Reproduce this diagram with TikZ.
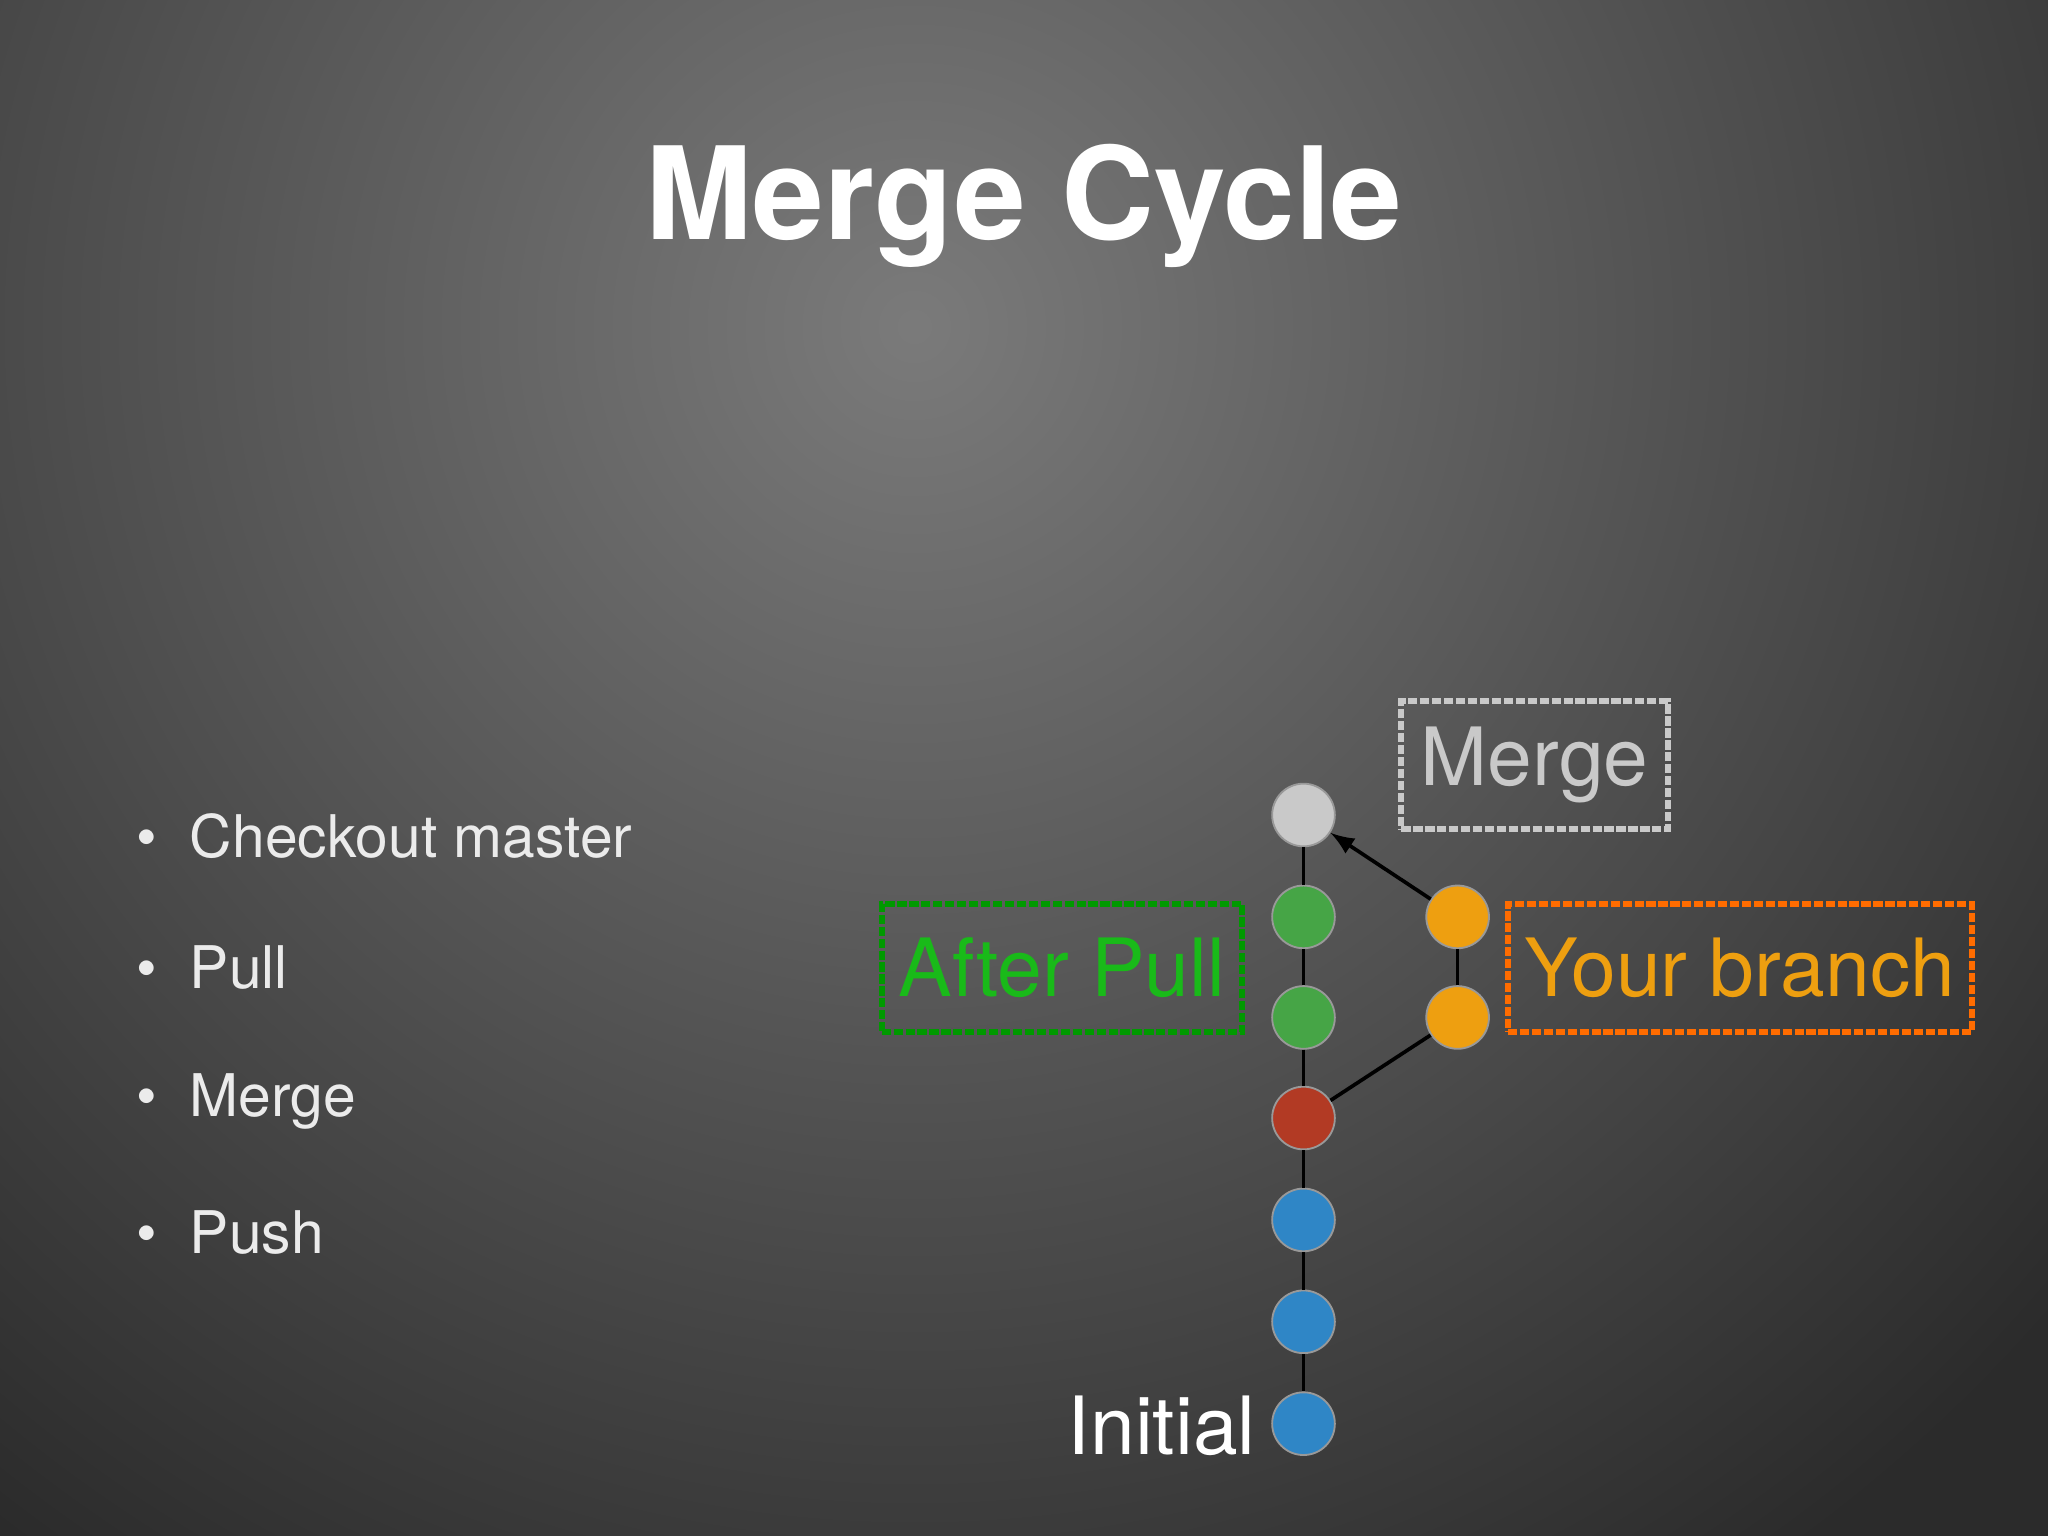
\documentclass[tikz,border=0pt]{standalone}
\usepackage{fontspec}
\setmainfont{TeX Gyre Heros}
\begin{document}
\begin{tikzpicture}[x=0.01cm,y=-0.01cm,
  commit/.style={circle,minimum size=48*0.01cm,inner sep=0pt,draw=black!40,line width=0.4pt},
  link/.style={black,line width=0.8pt},
  lbl/.style={font=\fontsize{17.5}{21}\selectfont,inner sep=0pt},
  rough/.style={line width=1.3pt,dash pattern=on 2pt off 0.6pt},
  bullet/.style={font=\fontsize{12.8}{15}\selectfont,text=white!92!black,anchor=west,inner sep=0pt}]
\useasboundingbox (0,0) rectangle (1568,1176);
\begin{scope}
\clip (0,0) rectangle (1568,1176);
\fill[black!83] (0,0) rectangle (1568,1176);
\shade[inner color=black!52,outer color=black!83] (700,250) circle (1150);
\end{scope}
\node[font=\fontsize{28}{34}\selectfont\bfseries,text=white] (title) at (784,158) {Merge Cycle};
\foreach \t/\y [count=\i] in {Checkout master/640,Pull/741,Merge/843,Push/944}{
  \node[bullet] (b\i) at (104,\y) {\textbullet\hspace{0.25cm}\t};}
\definecolor{cgray}{HTML}{C9C9C9}\definecolor{cgreen}{HTML}{46A546}
\definecolor{cred}{HTML}{B23A24}\definecolor{cblue}{HTML}{2F86C6}
\definecolor{corange}{HTML}{EE9F10}
\node[commit,fill=cgray] (m) at (998,624) {};
\node[commit,fill=cgreen] (g1) at (998,702) {};
\node[commit,fill=cgreen] (g2) at (998,779) {};
\node[commit,fill=cred] (r) at (998,856) {};
\node[commit,fill=cblue] (u1) at (998,934) {};
\node[commit,fill=cblue] (u2) at (998,1012) {};
\node[commit,fill=cblue] (u3) at (998,1090) {};
\node[commit,fill=corange] (o1) at (1116,702) {};
\node[commit,fill=corange] (o2) at (1116,779) {};
\foreach \a/\b in {m/g1,g1/g2,g2/r,r/u1,u1/u2,u2/u3,o1/o2}{\draw[link] (\a) -- (\b);}
\draw[link] (o2) -- (r);
\draw[link,-latex] (o1) -- (m);
\node[lbl,text=cgray,draw=cgray,rough,minimum width=204*0.01cm,minimum height=98*0.01cm] (lm) at (1175,586) {Merge};
\node[lbl,text=green!70!black!90!white,draw=green!60!black,rough,minimum width=276*0.01cm,minimum height=98*0.01cm] (lp) at (813,741) {After Pull};
\node[lbl,text=corange,draw=orange!85!red,rough,minimum width=355*0.01cm,minimum height=98*0.01cm] (lb) at (1332,741) {Your branch};
\node[lbl,text=white,anchor=east] (li) at (962,1092) {Initial};
\end{tikzpicture}
\end{document}
